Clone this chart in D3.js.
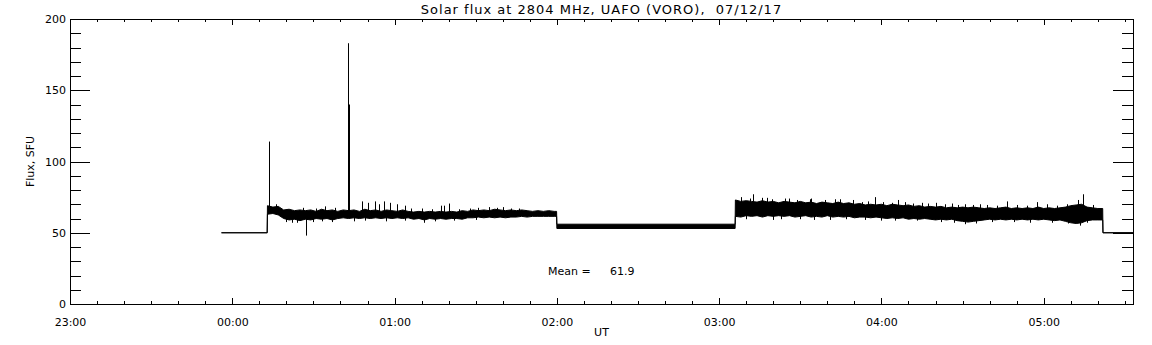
<!DOCTYPE html>
<html>
<head>
<meta charset="utf-8">
<script src="https://cdn.jsdelivr.net/npm/d3@7/dist/d3.min.js"></script>
<style>
  html, body { margin: 0; padding: 0; background: #fff; }
  svg { display: block; }
  text { font-family: "DejaVu Sans", sans-serif; fill: #000; }
</style>
</head>
<body>
<svg id="chart" width="1152" height="345"></svg>
<script>
// ---- data (time in minutes from 00:00 UT, flux in SFU) ----
const titleText = "Solar flux at 2804 MHz, UAFO (VORO),  07/12/17";
const meanFlux = 61.9;

// envelope of the recorded signal: sample time, lower and upper flux
const sampleTime = [
  -4, 12.9,
  13, 15, 17, 19, 21, 23, 25, 27, 29, 31, 33, 35, 37, 39, 41, 43, 45, 47, 49, 51,
  53, 55, 57, 59, 61, 63, 65, 67, 69, 71, 73, 75, 77, 79, 81, 83, 85, 87, 89, 91,
  93, 95, 97, 99, 101, 103, 105, 107, 109, 111, 113, 115, 117, 119, 119.9,
  120, 185.9,
  186, 188, 190, 192, 194, 196, 198, 200, 202, 204, 206, 208, 210, 212, 214, 216,
  218, 220, 222, 224, 226, 228, 230, 232, 234, 236, 238, 240, 242, 244, 246, 248,
  250, 252, 254, 256, 258, 260, 262, 264, 266, 268, 270, 272, 274, 276, 278, 280,
  282, 284, 286, 288, 290, 292, 294, 296, 298, 300, 302, 304, 306, 308, 310, 312,
  314, 316, 318, 320, 321.8,
  321.9, 333
];
const fluxHigh = [
  50, 50,
  69, 68, 68.5, 66, 66.5, 65.5, 66, 65.5, 66, 65, 66.5, 65.5, 66, 65, 66, 65.5, 66, 65, 66.5, 65.5,
  66, 65, 66, 65.5, 65, 66, 65, 64.5, 65, 64.5, 65, 64.5, 65, 64.5, 65, 64.5, 65.5, 65, 66, 65.5,
  66, 65.5, 66.5, 66, 65.5, 66, 65.5, 66, 65.5, 65, 65.5, 65, 65.5, 65, 65,
  56, 56,
  73, 72, 72.5, 72, 71.5, 72.5, 71.5, 72, 71, 72, 71.5, 71, 72, 71, 71.5, 70.5,
  71.5, 71, 70.5, 71.5, 70.5, 71, 70, 70.5, 69.5, 70, 69.5, 70, 69, 70, 69.5, 69,
  69.5, 68.5, 69, 68, 68.5, 68, 68.5, 67.5, 68, 67.5, 68, 67.5, 68, 67.5, 67, 67.5,
  67, 67.5, 68, 67, 67.5, 67, 67.5, 67, 68, 67, 67.5, 67, 67.5, 68, 69, 69.5,
  70, 68, 67.5, 67, 67,
  50, 50
];
const fluxLow = [
  50, 50,
  63, 63.5, 62.5, 60, 59, 59.5, 58.5, 59.5, 59, 60, 59.5, 60, 59, 60, 60.5, 60, 60.5, 60, 60.5, 60,
  60.5, 60, 60.5, 60, 60.5, 60, 60.5, 59.5, 60, 59, 60, 59.5, 60, 59.5, 60, 60, 59.5, 60.5, 60.5, 61,
  60.5, 61, 60.5, 61, 60.5, 61, 61, 61.5, 61, 61.5, 61.5, 61.5, 61.5, 61.5, 61.5,
  53, 53,
  61.5, 61, 62, 61.5, 62, 61, 62, 61.5, 62, 61.5, 62, 61, 61.5, 62, 61, 61.5,
  61, 62, 61, 61.5, 61, 61.5, 60.5, 61, 61, 60.5, 61, 60.5, 60, 60.5, 60, 60.5,
  59.5, 60, 59.5, 60, 59.5, 59, 59.5, 59, 59.5, 58.5, 58, 57.5, 58, 58.5, 59, 59.5,
  59, 59.5, 59, 59.5, 59, 59.5, 59, 59.5, 59, 59.5, 59, 58.5, 59, 58, 57, 56.5,
  57, 58.5, 59, 59, 59,
  50, 50
];

// isolated short excursions (spikes / dips)
const spikeTime = [
  // 00:13 - 02:00 upward
  13.6, 42.6, 43.0, 34.3, 47.9, 50.1, 52.7, 54.2, 56.1, 58.3, 61.0, 63.8, 77.1, 78.3, 80.1, 95, 100,
  16, 26, 31, 38, 66, 70, 74, 84, 88, 91, 98, 103, 106,
  // 00:13 - 02:00 downward
  27.2, 22, 30, 45, 71, 20, 24, 33, 37, 49, 57, 64, 75, 82, 90,
  // 03:06 - 05:22 upward
  188, 192.6, 197.7, 206, 214, 223, 237.7, 246, 260, 286.4, 297.5, 312.5, 314.5,
  191.4, 195.8, 199.5, 204.3, 208.8, 213.6, 219.1, 224.6, 229.4,
  232.8, 235, 240.6, 243.9, 248.7, 251.7, 255, 257.3, 263.6, 266.2, 268.4, 271, 274, 276.4,
  279, 282.7, 290.1, 293.8, 301.2, 304.9, 308.6, 318.2,
  // 03:06 - 05:22 downward
  200, 215, 240, 271, 313.5,
  190, 203, 210, 221, 227, 234, 245, 253, 262, 267, 275, 281, 289, 295, 303, 309, 316
];
const spikeFlux = [
  114, 183, 140, 68.5, 72, 71, 72, 70, 72, 71, 70, 69, 69, 69, 70.5, 68, 68,
  70, 67.5, 67, 67.5, 67, 67, 66.5, 66.5, 67, 67.5, 67.5, 67, 67,
  48, 57, 57.5, 58, 57, 57.5, 57, 58, 57.5, 58.5, 58, 58.5, 58, 58.5, 59,
  75, 77, 74.5, 74, 74, 73.5, 75, 73, 71, 72, 71.5, 73, 77,
  74, 74.5, 73.5, 74, 73, 73.5, 73, 73.5, 73,
  71.5, 72, 71.5, 71, 71.5, 70.5, 71, 70.5, 70, 70.5, 69.5, 70, 69.5, 70,
  69.5, 69, 69.5, 69, 70, 69, 70, 69.5,
  59, 59, 58.5, 56, 55,
  59.5, 59.5, 59.5, 59, 59.5, 59, 58.5, 58.5, 57.5, 57, 56.5, 57.5, 57.5, 57, 57, 56.5, 57
];

// axis ticks
const xMajorTicks = [-60, 0, 60, 120, 180, 240, 300];
const xMinorTicks = d3.range(-60, 331, 10);
const yMajorTicks = [0, 50, 100, 150, 200];
const yMinorTicks = d3.range(0, 201, 10);
const xDomain = [-60, 333];
const yDomain = [0, 200];

// ---- layout ----
const svg = d3.select("#chart");
const W = 1152, H = 345;
const m = { left: 70, right: 19, top: 19, bottom: 41 };
const x = d3.scaleLinear().domain(xDomain).range([m.left, W - m.right]);
const y = d3.scaleLinear().domain(yDomain).range([H - m.bottom, m.top]);

const fmtTime = t => {
  const h = ((Math.round(t / 60) % 24) + 24) % 24;
  return String(h).padStart(2, "0") + ":00";
};

// ---- data marks ----
const samples = sampleTime.map((t, i) => ({ t, lo: fluxLow[i], hi: fluxHigh[i] }));
const area = d3.area()
  .x(d => x(d.t))
  .y0(d => y(d.lo))
  .y1(d => y(d.hi))
  .curve(d3.curveLinear);

svg.append("path")
  .datum(samples)
  .attr("d", area)
  .attr("fill", "#000")
  .attr("stroke", "#000")
  .attr("stroke-width", 1);

const bis = d3.bisector(d => d.t).right;
const baseAt = t => {
  const s = samples[Math.max(0, bis(samples, t) - 1)];
  return (s.lo + s.hi) / 2;
};
svg.append("g")
  .selectAll("line")
  .data(spikeTime.map((t, i) => ({ t, v: spikeFlux[i] })))
  .join("line")
  .attr("x1", d => Math.round(x(d.t)) + 0.5)
  .attr("x2", d => Math.round(x(d.t)) + 0.5)
  .attr("y1", d => y(baseAt(d.t)))
  .attr("y2", d => y(d.v))
  .attr("stroke", "#000")
  .attr("stroke-width", 1);

// ---- axes ----
function styleAxis(g) {
  g.attr("shape-rendering", "crispEdges");
  g.selectAll("path, line").attr("stroke", "#000");
  g.selectAll("text").style("font-family", "DejaVu Sans, sans-serif").style("font-size", "11px");
}
const bottomY = H - m.bottom, topY = m.top, leftX = m.left, rightX = W - m.right;

// bottom
svg.append("g").attr("transform", `translate(0,${bottomY})`)
  .call(d3.axisBottom(x).tickValues(xMinorTicks).tickSize(-3).tickSizeOuter(0).tickFormat(""))
  .call(styleAxis);
svg.append("g").attr("transform", `translate(0,${bottomY})`)
  .call(d3.axisBottom(x).tickValues(xMajorTicks).tickSize(-6).tickSizeOuter(0).tickPadding(14).tickFormat(fmtTime))
  .call(styleAxis);
// top
svg.append("g").attr("transform", `translate(0,${topY})`)
  .call(d3.axisTop(x).tickValues(xMinorTicks).tickSize(-3).tickSizeOuter(0).tickFormat(""))
  .call(styleAxis);
svg.append("g").attr("transform", `translate(0,${topY})`)
  .call(d3.axisTop(x).tickValues(xMajorTicks).tickSize(-6).tickSizeOuter(0).tickFormat(""))
  .call(styleAxis);
// left
svg.append("g").attr("transform", `translate(${leftX},0)`)
  .call(d3.axisLeft(y).tickValues(yMinorTicks).tickSize(-11).tickSizeOuter(0).tickFormat(""))
  .call(styleAxis);
svg.append("g").attr("transform", `translate(${leftX},0)`)
  .call(d3.axisLeft(y).tickValues(yMajorTicks).tickSize(-20).tickSizeOuter(0).tickPadding(4).tickFormat(d3.format("d")))
  .call(styleAxis);
// right
svg.append("g").attr("transform", `translate(${rightX},0)`)
  .call(d3.axisRight(y).tickValues(yMinorTicks).tickSize(-11).tickSizeOuter(0).tickFormat(""))
  .call(styleAxis);
svg.append("g").attr("transform", `translate(${rightX},0)`)
  .call(d3.axisRight(y).tickValues(yMajorTicks).tickSize(-20).tickSizeOuter(0).tickFormat(""))
  .call(styleAxis);

// ---- texts ----
const cx = (leftX + rightX) / 2;
svg.append("text")
  .attr("x", cx).attr("y", 14)
  .attr("text-anchor", "middle")
  .style("font-size", "13px")
  .style("letter-spacing", "1px")
  .style("white-space", "pre")
  .text(titleText);

svg.append("text")
  .attr("x", cx).attr("y", 336)
  .attr("text-anchor", "middle")
  .style("font-size", "11px")
  .text("UT");

svg.append("text")
  .attr("transform", `translate(34,${(topY + bottomY) / 2}) rotate(-90)`)
  .attr("text-anchor", "middle")
  .style("font-size", "11px")
  .text("Flux, SFU");

svg.append("text")
  .attr("x", 548).attr("y", 275)
  .style("font-size", "11px")
  .text("Mean =");
svg.append("text")
  .attr("x", 610).attr("y", 275)
  .style("font-size", "11px")
  .text(meanFlux.toFixed(1));
</script>
</body>
</html>
